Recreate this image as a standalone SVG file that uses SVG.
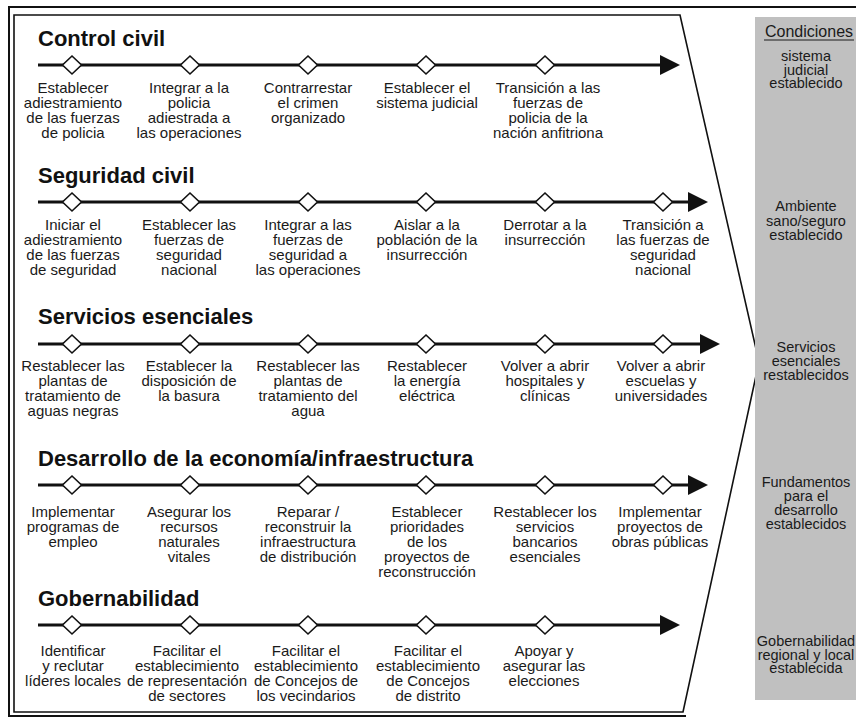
<svg xmlns="http://www.w3.org/2000/svg" width="856" height="718" viewBox="0 0 856 718">
<style>
.frame{fill:none;stroke:#111;stroke-width:2}
.inner{fill:none;stroke:#111;stroke-width:1.6}
.tl{stroke:#111;stroke-width:3.2;fill:none}
.ah{fill:#111}
.dia{fill:#fff;stroke:#111;stroke-width:1.6}
.title{font-family:"Liberation Sans",Arial,sans-serif;font-weight:bold;font-size:22px;fill:#111}
.lbl{font-family:"Liberation Sans",Arial,sans-serif;font-size:15px;fill:#1a1a1a;text-anchor:middle}
.cond{font-family:"Liberation Sans",Arial,sans-serif;font-size:14.5px;fill:#1a1a1a;text-anchor:middle}
.condh{font-family:"Liberation Sans",Arial,sans-serif;font-size:16px;fill:#1a1a1a;text-anchor:middle}
</style>
<defs>
<polygon id="d" class="dia" points="0,-9 9.5,0 0,9 -9.5,0"/>
</defs>
<rect width="856" height="718" fill="#fff"/>
<g id="frame">
<polyline class="frame" points="856,7 9,7 9,716 686,716"/>
<polygon class="inner" points="14,15 680,15 759,362 683,712 14,712"/>
</g>
<g id="conditions">
<rect x="755" y="17" width="101" height="683" fill="#c0c0c0"/>
<text class="condh" x="809" y="37">Condiciones</text>
<line x1="764" y1="40" x2="854" y2="40" stroke="#1a1a1a" stroke-width="1"/>
<text class="cond" x="806" y="61"><tspan x="806">sistema</tspan><tspan x="806" dy="13.5">judicial</tspan><tspan x="806" dy="13.5">establecido</tspan></text>
<text class="cond" x="806" y="211"><tspan x="806">Ambiente</tspan><tspan x="806" dy="14.5">sano/seguro</tspan><tspan x="806" dy="14.5">establecido</tspan></text>
<text class="cond" x="806" y="352"><tspan x="806">Servicios</tspan><tspan x="806" dy="14">esenciales</tspan><tspan x="806" dy="14">restablecidos</tspan></text>
<text class="cond" x="806" y="487"><tspan x="806">Fundamentos</tspan><tspan x="806" dy="14">para el</tspan><tspan x="806" dy="14">desarrollo</tspan><tspan x="806" dy="14">establecidos</tspan></text>
<text class="cond" x="806" y="646"><tspan x="806">Gobernabilidad</tspan><tspan x="806" dy="13.5">regional y local</tspan><tspan x="806" dy="13.5">establecida</tspan></text>
</g>
<g id="connectors">
<line class="tl" x1="38" y1="65" x2="662" y2="65"/>
<polygon class="ah" points="660,55 680,65 660,75"/>
<line class="tl" x1="38" y1="202" x2="690" y2="202"/>
<polygon class="ah" points="688,192 708,202 688,212"/>
<line class="tl" x1="38" y1="344" x2="702" y2="344"/>
<polygon class="ah" points="700,334 720,344 700,354"/>
<line class="tl" x1="38" y1="485" x2="690" y2="485"/>
<polygon class="ah" points="688,475 708,485 688,495"/>
<line class="tl" x1="38" y1="625" x2="662" y2="625"/>
<polygon class="ah" points="660,615 680,625 660,635"/>
</g>
<g id="row-control-civil">
<text class="title" x="38" y="46">Control civil</text>
<use href="#d" x="72" y="65"/><use href="#d" x="190" y="65"/><use href="#d" x="308" y="65"/><use href="#d" x="426" y="65"/><use href="#d" x="545" y="65"/>
<text class="lbl" y="93"><tspan x="73">Establecer</tspan><tspan x="73" dy="15">adiestramiento</tspan><tspan x="73" dy="15">de las fuerzas</tspan><tspan x="73" dy="15">de policia</tspan></text>
<text class="lbl" y="93"><tspan x="189">Integrar a la</tspan><tspan x="189" dy="15">policia</tspan><tspan x="189" dy="15">adiestrada a</tspan><tspan x="189" dy="15">las operaciones</tspan></text>
<text class="lbl" y="93"><tspan x="308">Contrarrestar</tspan><tspan x="308" dy="15">el crimen</tspan><tspan x="308" dy="15">organizado</tspan></text>
<text class="lbl" y="93"><tspan x="427">Establecer el</tspan><tspan x="427" dy="15">sistema judicial</tspan></text>
<text class="lbl" y="93"><tspan x="548">Transición a las</tspan><tspan x="548" dy="15">fuerzas de</tspan><tspan x="548" dy="15">policia de la</tspan><tspan x="548" dy="15">nación anfitriona</tspan></text>
</g>
<g id="row-seguridad-civil">
<text class="title" x="38" y="183">Seguridad civil</text>
<use href="#d" x="72" y="202"/><use href="#d" x="190" y="202"/><use href="#d" x="308" y="202"/><use href="#d" x="426" y="202"/><use href="#d" x="545" y="202"/><use href="#d" x="663" y="202"/>
<text class="lbl" y="230"><tspan x="73">Iniciar el</tspan><tspan x="73" dy="15">adiestramiento</tspan><tspan x="73" dy="15">de las fuerzas</tspan><tspan x="73" dy="15">de seguridad</tspan></text>
<text class="lbl" y="230"><tspan x="189">Establecer las</tspan><tspan x="189" dy="15">fuerzas de</tspan><tspan x="189" dy="15">seguridad</tspan><tspan x="189" dy="15">nacional</tspan></text>
<text class="lbl" y="230"><tspan x="308">Integrar a las</tspan><tspan x="308" dy="15">fuerzas de</tspan><tspan x="308" dy="15">seguridad a</tspan><tspan x="308" dy="15">las operaciones</tspan></text>
<text class="lbl" y="230"><tspan x="427">Aislar a la</tspan><tspan x="427" dy="15">población de la</tspan><tspan x="427" dy="15">insurrección</tspan></text>
<text class="lbl" y="230"><tspan x="545">Derrotar a la</tspan><tspan x="545" dy="15">insurrección</tspan></text>
<text class="lbl" y="230"><tspan x="663">Transición a</tspan><tspan x="663" dy="15">las fuerzas de</tspan><tspan x="663" dy="15">seguridad</tspan><tspan x="663" dy="15">nacional</tspan></text>
</g>
<g id="row-servicios-esenciales">
<text class="title" x="38" y="324">Servicios esenciales</text>
<use href="#d" x="72" y="344"/><use href="#d" x="190" y="344"/><use href="#d" x="308" y="344"/><use href="#d" x="426" y="344"/><use href="#d" x="545" y="344"/><use href="#d" x="663" y="344"/>
<text class="lbl" y="371"><tspan x="73">Restablecer las</tspan><tspan x="73" dy="15">plantas de</tspan><tspan x="73" dy="15">tratamiento de</tspan><tspan x="73" dy="15">aguas negras</tspan></text>
<text class="lbl" y="371"><tspan x="189">Establecer la</tspan><tspan x="189" dy="15">disposición de</tspan><tspan x="189" dy="15">la basura</tspan></text>
<text class="lbl" y="371"><tspan x="308">Restablecer las</tspan><tspan x="308" dy="15">plantas de</tspan><tspan x="308" dy="15">tratamiento del</tspan><tspan x="308" dy="15">agua</tspan></text>
<text class="lbl" y="371"><tspan x="427">Restablecer</tspan><tspan x="427" dy="15">la energía</tspan><tspan x="427" dy="15">eléctrica</tspan></text>
<text class="lbl" y="371"><tspan x="545">Volver a abrir</tspan><tspan x="545" dy="15">hospitales y</tspan><tspan x="545" dy="15">clínicas</tspan></text>
<text class="lbl" y="371"><tspan x="661">Volver a abrir</tspan><tspan x="661" dy="15">escuelas y</tspan><tspan x="661" dy="15">universidades</tspan></text>
</g>
<g id="row-desarrollo">
<text class="title" x="38" y="466">Desarrollo de la economía/infraestructura</text>
<use href="#d" x="72" y="485"/><use href="#d" x="190" y="485"/><use href="#d" x="308" y="485"/><use href="#d" x="426" y="485"/><use href="#d" x="545" y="485"/><use href="#d" x="663" y="485"/>
<text class="lbl" y="517"><tspan x="73">Implementar</tspan><tspan x="73" dy="15">programas de</tspan><tspan x="73" dy="15">empleo</tspan></text>
<text class="lbl" y="517"><tspan x="189">Asegurar los</tspan><tspan x="189" dy="15">recursos</tspan><tspan x="189" dy="15">naturales</tspan><tspan x="189" dy="15">vitales</tspan></text>
<text class="lbl" y="517"><tspan x="308">Reparar /</tspan><tspan x="308" dy="15">reconstruir la</tspan><tspan x="308" dy="15">infraestructura</tspan><tspan x="308" dy="15">de distribución</tspan></text>
<text class="lbl" y="517"><tspan x="427">Establecer</tspan><tspan x="427" dy="15">prioridades</tspan><tspan x="427" dy="15">de los</tspan><tspan x="427" dy="15">proyectos de</tspan><tspan x="427" dy="15">reconstrucción</tspan></text>
<text class="lbl" y="517"><tspan x="545">Restablecer los</tspan><tspan x="545" dy="15">servicios</tspan><tspan x="545" dy="15">bancarios</tspan><tspan x="545" dy="15">esenciales</tspan></text>
<text class="lbl" y="517"><tspan x="660">Implementar</tspan><tspan x="660" dy="15">proyectos de</tspan><tspan x="660" dy="15">obras públicas</tspan></text>
</g>
<g id="row-gobernabilidad">
<text class="title" x="38" y="606">Gobernabilidad</text>
<use href="#d" x="72" y="625"/><use href="#d" x="190" y="625"/><use href="#d" x="308" y="625"/><use href="#d" x="426" y="625"/><use href="#d" x="545" y="625"/>
<text class="lbl" y="656"><tspan x="73">Identificar</tspan><tspan x="73" dy="15">y reclutar</tspan><tspan x="73" dy="15">líderes locales</tspan></text>
<text class="lbl" y="656"><tspan x="187">Facilitar el</tspan><tspan x="187" dy="15">establecimiento</tspan><tspan x="187" dy="15">de representación</tspan><tspan x="187" dy="15">de sectores</tspan></text>
<text class="lbl" y="656"><tspan x="306">Facilitar el</tspan><tspan x="306" dy="15">establecimiento</tspan><tspan x="306" dy="15">de Concejos de</tspan><tspan x="306" dy="15">los vecindarios</tspan></text>
<text class="lbl" y="656"><tspan x="428">Facilitar el</tspan><tspan x="428" dy="15">establecimiento</tspan><tspan x="428" dy="15">de Concejos</tspan><tspan x="428" dy="15">de distrito</tspan></text>
<text class="lbl" y="656"><tspan x="544">Apoyar y</tspan><tspan x="544" dy="15">asegurar las</tspan><tspan x="544" dy="15">elecciones</tspan></text>
</g>
</svg>
